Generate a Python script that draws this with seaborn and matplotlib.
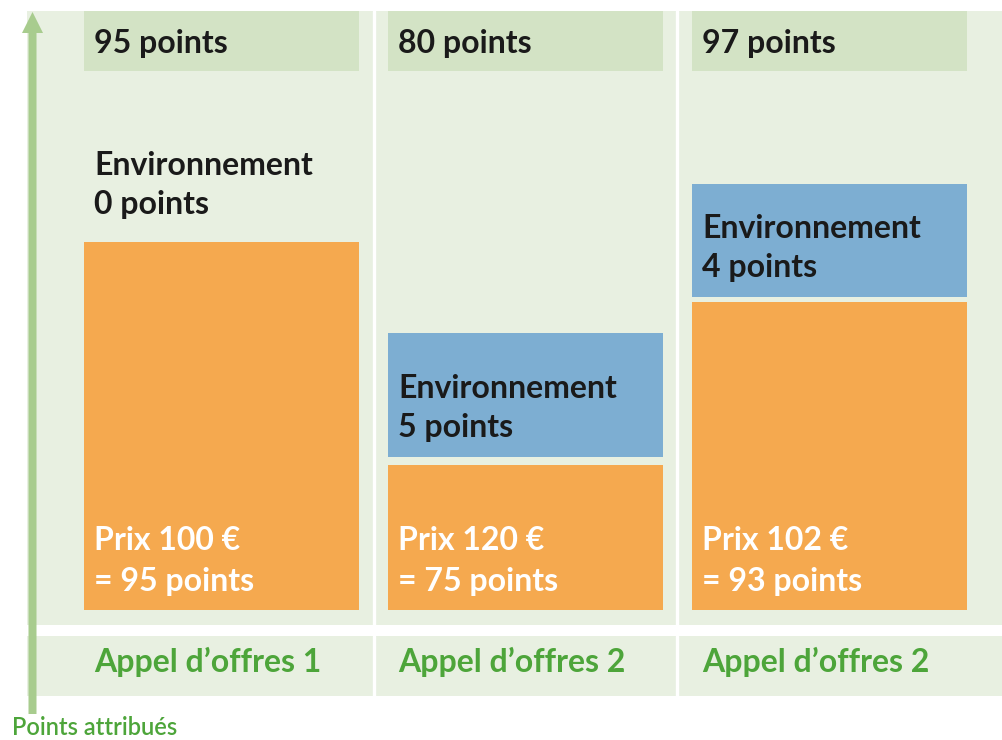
import matplotlib.pyplot as plt
import pandas as pd
import seaborn as sns
from matplotlib.patches import FancyArrow
from matplotlib.transforms import IdentityTransform

# données du schéma
ids = ["o1", "o2", "o3"]
offres = ["Appel d’offres 1", "Appel d’offres 2", "Appel d’offres 2"]
totaux = [95, 80, 97]
prix = [100, 120, 102]
points_prix = [95, 75, 93]
points_env = [0, 5, 4]
# hauteurs dessinées (le schéma n'est pas à l'échelle)
haut_prix = [368, 145, 308]
haut_env = [0, 124, 113]
ecart = [8, 8, 5]

ORANGE = "#F5A94F"
BLEU = "#7DAED2"
FOND = "#E8F0E1"
ENTETE = "#D3E3C5"
FLECHE = "#A8CC8E"
VERT = "#4DA53A"
NOIR = "#1A1A1A"

df = pd.DataFrame({"id": ids, "prix": haut_prix, "env": haut_env})
df["bas_env"] = [p + e for p, e in zip(haut_prix, ecart)]

sns.set_style("white")
plt.rcParams["font.family"] = ["Lato", "DejaVu Sans"]

W, H = 1003, 740
fig = plt.figure(figsize=(W / 100, H / 100), dpi=100)
ax = fig.add_axes([27 / W, (H - 625) / H, (W - 27) / W, 614 / H])
ax2 = fig.add_axes([27 / W, (H - 696) / H, (W - 27) / W, 60 / H])

larg = 0.905
sns.barplot(data=df, x="id", y="prix", color=ORANGE, saturation=1, width=larg,
            linewidth=0, errorbar=None, ax=ax, zorder=2)
sns.barplot(data=df, x="id", y="env", bottom=df["bas_env"], color=BLEU, saturation=1,
            width=larg, linewidth=0, errorbar=None, ax=ax, zorder=2)
sns.barplot(x=ids, y=[60] * 3, bottom=539, color=ENTETE, saturation=1, width=larg,
            linewidth=0, errorbar=None, ax=ax, zorder=2)

fs = 23
for i in range(3):
    x0 = i - 0.418
    ax.text(x0, 557, f"{totaux[i]} points", fontsize=fs, fontweight="bold", color=NOIR)
    b = df["bas_env"][i]
    ax.text(x0, b + 59, "Environnement", fontsize=fs, fontweight="bold", color=NOIR)
    ax.text(x0, b + 20, f"{points_env[i]} points", fontsize=fs, fontweight="bold", color=NOIR)
    ax.text(x0, 60, f"Prix {prix[i]} €", fontsize=fs, fontweight="bold", color="white")
    ax.text(x0, 19, f"= {points_prix[i]} points", fontsize=fs, fontweight="bold", color="white")
    ax2.text(x0, 0.4, offres[i], fontsize=fs, fontweight="bold", color=VERT)

for a in (ax, ax2):
    a.set_facecolor(FOND)
    a.set_xlim(-0.64, 2.571)
    a.set(xticks=[], yticks=[], xlabel="", ylabel="")
    for s in a.spines.values():
        s.set_visible(False)
    for xv in (0.5, 1.5):
        a.axvline(xv, color="white", lw=2.4, zorder=3)
ax.set_ylim(-15, 599)
ax2.set_ylim(0, 1)

fig.add_artist(FancyArrow(32.5, 26, 0, 702, width=8, head_width=21, head_length=21,
                          length_includes_head=True, color=FLECHE, lw=0,
                          transform=IdentityTransform(), zorder=5))
fig.text(12 / W, (H - 735) / H, "Points attribués", fontsize=17, color=VERT,
         fontweight="semibold")

fig.savefig("out.png", dpi=100)
